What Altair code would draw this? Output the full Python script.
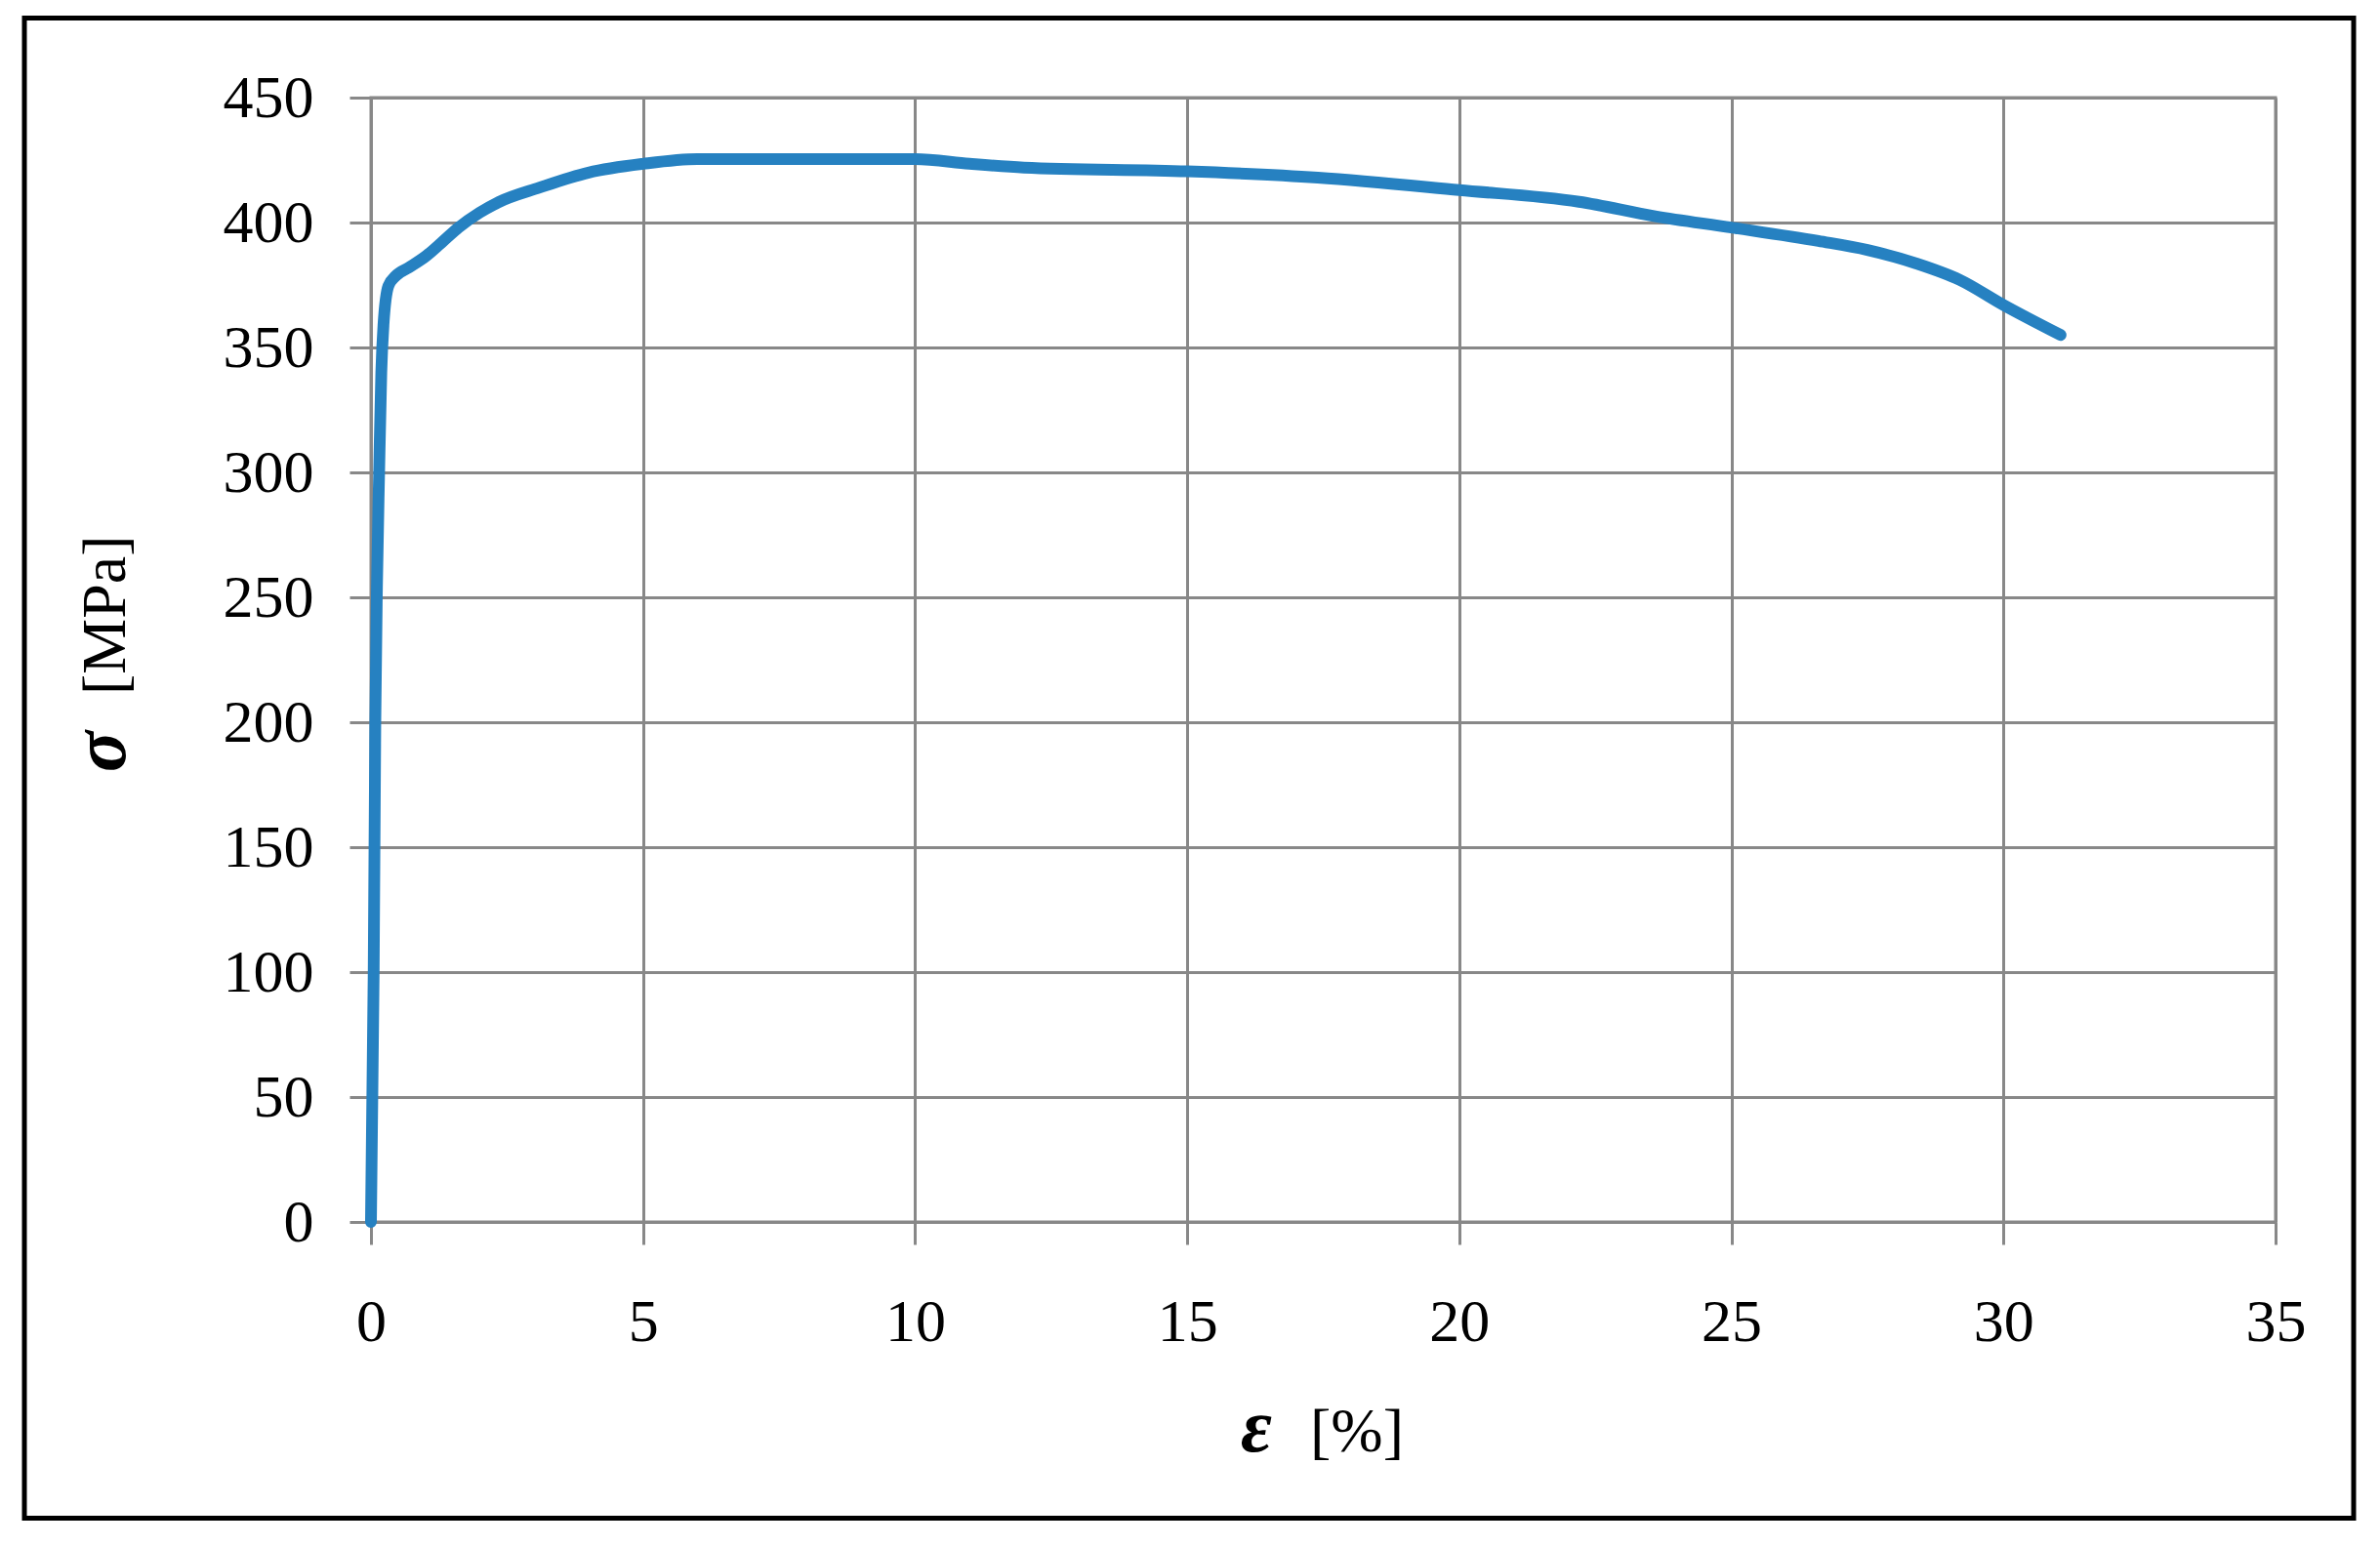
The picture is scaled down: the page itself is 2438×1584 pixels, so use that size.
import altair as alt
import pandas as pd

# Strain (%) and stress (MPa)
strain = [0, 0.05, 0.08, 0.11, 0.15, 0.19, 0.23, 0.32, 0.45, 0.70, 1.02, 1.30,
          1.61, 2.0, 2.33, 3.1, 4.0, 5.0, 6.0, 8.0, 10.0, 11.0, 12.0, 15.0,
          17.4, 20.0, 22.2, 23.6, 25.0, 26.6, 27.5, 28.4, 29.2, 30.0, 31.05]
stress = [0, 100, 200, 254, 300, 340, 359, 374.6, 378.5, 382, 386.7, 392,
          398, 404, 408, 414, 420, 423.5, 425.4, 425.4, 425.4, 423.5, 422, 420.5,
          418, 413, 408.3, 402.5, 398, 392.6, 389, 383.6, 377, 367, 355]

x_ticks = [0, 5, 10, 15, 20, 25, 30, 35]
y_ticks = [0, 50, 100, 150, 200, 250, 300, 350, 400, 450]

x_symbol, x_unit = "ε", "[%]"
y_symbol, y_unit = "σ", "[MPa]"

df = pd.DataFrame({"strain": strain, "stress": stress})

FONT = "Liberation Serif"
GRID = "#888888"
FS = 62
TFS = 64
SFS = 78

base = alt.Chart(df)

line = base.mark_line(color="#2681C1", strokeWidth=12, strokeCap="round",
                      strokeJoin="round", interpolate="monotone").encode(
    x=alt.X("strain:Q",
            scale=alt.Scale(domain=[0, 35], nice=False, zero=True),
            axis=alt.Axis(values=x_ticks, title=None, grid=True,
                          gridColor=GRID, gridWidth=3, gridOpacity=1,
                          domainColor=GRID, domainWidth=3,
                          tickColor=GRID, tickWidth=3, tickSize=23,
                          labelFont=FONT, labelFontSize=FS, labelColor="black",
                          labelPadding=49, labelFlush=False, labelOverlap=False)),
    y=alt.Y("stress:Q",
            scale=alt.Scale(domain=[0, 450], nice=False, zero=True),
            axis=alt.Axis(values=y_ticks, title=None, grid=True,
                          gridColor=GRID, gridWidth=3, gridOpacity=1,
                          domainColor=GRID, domainWidth=3,
                          tickColor=GRID, tickWidth=3, tickSize=22,
                          labelFont=FONT, labelFontSize=FS, labelColor="black",
                          labelPadding=37, labelFlush=False, labelOverlap=False)),
)

one = pd.DataFrame({"k": [0]})

border = alt.Chart(one).mark_rect(fillOpacity=0, stroke="black", strokeWidth=5).encode(
    x=alt.value(-355), x2=alt.value(2031),
    y=alt.value(-81.5), y2=alt.value(1455.5),
)

xsym = alt.Chart(one).mark_text(align="left", baseline="alphabetic", font=FONT,
                                fontSize=SFS, fontStyle="italic", fontWeight="bold",
                                color="black").encode(
    x=alt.value(891), y=alt.value(1387), text=alt.value(x_symbol))
xunit = alt.Chart(one).mark_text(align="left", baseline="alphabetic", font=FONT,
                                 fontSize=TFS, color="black").encode(
    x=alt.value(962), y=alt.value(1387), text=alt.value(x_unit))

ysym = alt.Chart(one).mark_text(align="left", baseline="alphabetic", font=FONT,
                                fontSize=SFS, fontStyle="italic", fontWeight="bold",
                                angle=270, color="black").encode(
    x=alt.value(-252), y=alt.value(691), text=alt.value(y_symbol))
yunit = alt.Chart(one).mark_text(align="left", baseline="alphabetic", font=FONT,
                                 fontSize=TFS, angle=270, color="black").encode(
    x=alt.value(-252), y=alt.value(612), text=alt.value(y_unit))

chart = alt.layer(border, line, xsym, xunit, ysym, yunit).properties(
    width=1951, height=1152,
    autosize=alt.AutoSizeParams(type="none"),
    padding={"left": 372, "top": 92, "right": 90, "bottom": 310},
    background="white",
).configure_view(stroke=GRID, strokeWidth=3)

chart.save("out.html", embed_options={"renderer": "svg", "actions": False})
